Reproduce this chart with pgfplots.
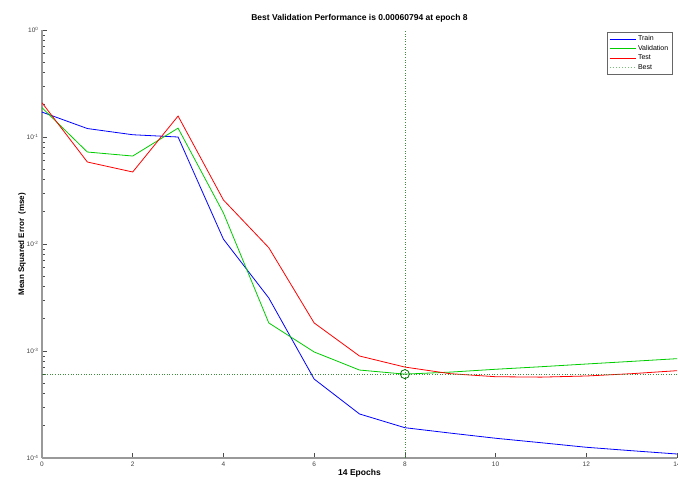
\documentclass[border=0pt]{standalone}
\usepackage{pgfplots}
\pgfplotsset{compat=1.18}
\usepackage{fontspec}
\setmainfont{Liberation Sans}
\definecolor{mblue}{RGB}{0,0,255}
\definecolor{mgreen}{RGB}{0,204,0}
\definecolor{mred}{RGB}{255,0,0}
\definecolor{bestc}{RGB}{60,140,60}
\definecolor{bestl}{RGB}{120,190,120}
\begin{document}
\begin{tikzpicture}
\path[use as bounding box] (-42pt,-27pt) rectangle (636pt,458pt);
\begin{axis}[
  scale only axis, width=635pt, height=428pt,
  ymode=log, xmin=0, xmax=14, ymin=1e-4, ymax=1,
  axis lines=left, axis line style={gray!80, line width=1.4pt, -},
  xtick={0,2,...,14}, xticklabels={0,2,4,6,8,10,12,14},
  ytick={1e-4,1e-3,1e-2,1e-1,1},
  yticklabels={10\textsuperscript{-4},10\textsuperscript{-3},10\textsuperscript{-2},10\textsuperscript{-1},10\textsuperscript{0}},
  minor y tick num=8,
  tick align=inside, major tick length=5pt, minor tick length=3pt,
  tick style={black!70, line width=0.6pt},
  ticklabel style={font=\fontsize{6.5}{7}\selectfont, text=black!75},
  /pgf/number format/assume math mode=true,
  title={Best Validation Performance is 0.00060794 at epoch 8},
  title style={font=\bfseries\fontsize{8.5}{10}\selectfont, yshift=-2pt},
  xlabel={14 Epochs},
  xlabel style={font=\bfseries\fontsize{8.5}{10}\selectfont, yshift=4pt},
  ylabel={Mean Squared Error\ \ (mse)},
  ylabel style={font=\bfseries\fontsize{8}{10}\selectfont, yshift=-6pt},
  legend style={at={(1,1)}, anchor=north east, xshift=-5pt, yshift=-2pt,
    font=\fontsize{7}{8}\selectfont, draw=black!60, line width=0.5pt,
    inner sep=1.5pt, row sep=-1pt, cells={anchor=west}},
  legend cell align=left,
  clip=false,
]
\addlegendimage{legend image code/.code={\draw[mblue, line width=1pt] (0pt,0pt) -- (26pt,0pt);}}
\addlegendentry{Train}
\addlegendimage{legend image code/.code={\draw[mgreen, line width=1pt] (0pt,0pt) -- (26pt,0pt);}}
\addlegendentry{Validation}
\addlegendimage{legend image code/.code={\draw[mred, line width=1pt] (0pt,0pt) -- (26pt,0pt);}}
\addlegendentry{Test}
\addlegendimage{legend image code/.code={\draw[bestl, dotted, line width=1pt] (0pt,0pt) -- (26pt,0pt);}}
\addlegendentry{Best}
\addplot[draw=mblue, line width=0.8pt, forget plot] coordinates {
(0,0.171)(1,0.120)(2,0.105)(3,0.100)(4,0.0111)(5,0.00313)(6,0.000547)(7,0.000258)
(8,0.000192)(9,0.000171)(10,0.000153)(11,0.000139)(12,0.000126)(13,0.000117)(14,0.000109)};
\addplot[draw=mgreen, line width=0.8pt, forget plot] coordinates {
(0,0.188)(1,0.0724)(2,0.0664)(3,0.121)(4,0.0195)(5,0.00183)(6,0.00098)(7,0.000664)
(8,0.00060794)(9,0.000635)(10,0.000675)(11,0.000713)(12,0.000756)(13,0.0008)(14,0.000848)};
\addplot[draw=mred, line width=0.8pt, forget plot] coordinates {
(0,0.209)(1,0.0584)(2,0.0471)(3,0.157)(4,0.0258)(5,0.00924)(6,0.00183)(7,0.000898)
(8,0.000708)(9,0.000614)(10,0.000575)(11,0.00057)(12,0.000584)(13,0.000614)(14,0.000655)};
\addplot[draw=bestc, dotted, line width=0.6pt, forget plot] coordinates {(8,1e-4)(8,1)};
\addplot[draw=bestc, dotted, line width=0.6pt, forget plot] coordinates {(0,0.00060794)(14,0.00060794)};
\addplot[only marks, mark=o, mark size=4.5pt, mark options={draw=green!45!black, line width=0.8pt}, forget plot] coordinates {(8,0.00060794)};
\end{axis}
\end{tikzpicture}
\end{document}
